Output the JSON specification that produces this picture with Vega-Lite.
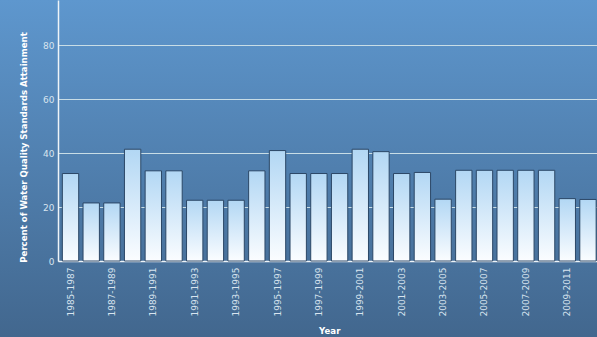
{
  "$schema": "https://vega.github.io/schema/vega-lite/v6.json",
  "width": 597,
  "height": 337,
  "autosize": {"type": "none"},
  "padding": 0,
  "background": "#43688f",
  "view": {
    "fill": {"gradient": "linear", "x1": 0, "y1": 0, "x2": 0, "y2": 1,
      "stops": [{"offset": 0, "color": "#5e97ce"}, {"offset": 1, "color": "#42678e"}]},
    "stroke": null
  },
  "data": {
    "values": [
      {"period": "1985-1987", "pct": 32.4},
      {"period": "1986-1988", "pct": 21.5},
      {"period": "1987-1989", "pct": 21.5},
      {"period": "1988-1990", "pct": 41.4},
      {"period": "1989-1991", "pct": 33.4},
      {"period": "1990-1992", "pct": 33.4},
      {"period": "1991-1993", "pct": 22.5},
      {"period": "1992-1994", "pct": 22.5},
      {"period": "1993-1995", "pct": 22.5},
      {"period": "1994-1996", "pct": 33.4},
      {"period": "1995-1997", "pct": 40.9},
      {"period": "1996-1998", "pct": 32.4},
      {"period": "1997-1999", "pct": 32.4},
      {"period": "1998-2000", "pct": 32.4},
      {"period": "1999-2001", "pct": 41.4},
      {"period": "2000-2002", "pct": 40.5},
      {"period": "2001-2003", "pct": 32.4},
      {"period": "2002-2004", "pct": 32.8},
      {"period": "2003-2005", "pct": 22.9},
      {"period": "2004-2006", "pct": 33.6},
      {"period": "2005-2007", "pct": 33.6},
      {"period": "2006-2008", "pct": 33.6},
      {"period": "2007-2009", "pct": 33.6},
      {"period": "2008-2010", "pct": 33.6},
      {"period": "2009-2011", "pct": 23.1},
      {"period": "2010-2012", "pct": 22.8}
    ]
  },
  "mark": {
    "type": "bar",
    "fill": {"gradient": "linear", "x1": 0, "y1": 0, "x2": 0, "y2": 1,
      "stops": [{"offset": 0, "color": "#b2d7f4"}, {"offset": 1, "color": "#fbfdff"}]},
    "stroke": "#2b4766",
    "strokeWidth": 1
  },
  "encoding": {
    "x": {
      "field": "period",
      "type": "nominal",
      "sort": null,
      "scale": {"range": [58, 600.5], "paddingInner": 0.21, "paddingOuter": 0.21},
      "axis": {
        "title": "Year",
        "orient": "bottom",
        "offset": -76,
        "values": ["1985-1987", "1987-1989", "1989-1991", "1991-1993", "1993-1995", "1995-1997", "1997-1999", "1999-2001", "2001-2003", "2003-2005", "2005-2007", "2007-2009", "2009-2011"],
        "labelAngle": -90,
        "labelFont": "DejaVu Sans",
        "labelFontSize": 9,
        "labelColor": "#d8e4ef",
        "labelPadding": 6,
        "ticks": false,
        "grid": false,
        "domainColor": "#eef4f8",
        "domainWidth": 1.5,
        "titleFont": "DejaVu Sans",
        "titleFontSize": 8.6,
        "titleFontWeight": "bold",
        "titleColor": "#ffffff",
        "titlePadding": 10
      }
    },
    "y": {
      "field": "pct",
      "type": "quantitative",
      "scale": {"domain": [0, 96.67], "range": [261, 0], "nice": false, "zero": true},
      "axis": {
        "title": "Percent of Water Quality Standards Attainment",
        "offset": -58,
        "values": [0, 20, 40, 60, 80],
        "grid": true,
        "gridColor": "#c8dde6",
        "gridWidth": 1,
        "ticks": false,
        "domainColor": "#eef4f8",
        "domainWidth": 1.5,
        "labelFont": "DejaVu Sans",
        "labelFontSize": 9,
        "labelColor": "#d8e4ef",
        "labelPadding": 4,
        "titleFont": "DejaVu Sans",
        "titleFontSize": 8.6,
        "titleFontWeight": "bold",
        "titleColor": "#ffffff",
        "titleAngle": -90,
        "titleBaseline": "bottom",
        "titleAlign": "center",
        "titleX": -30,
        "titleY": 147
      }
    }
  }
}
